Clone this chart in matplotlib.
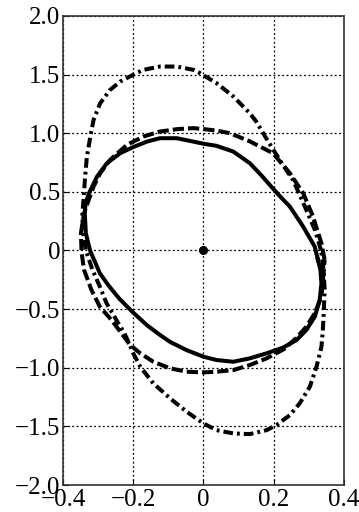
import matplotlib.pyplot as plt

# solid orbit
solid_x = [0.326, 0.317, 0.284, 0.246, 0.22, 0.197, 0.165, 0.132, 0.085, 0.037,
           0.0, -0.029, -0.076, -0.124, -0.161, -0.201, -0.237, -0.275, -0.303, -0.326,
           -0.336, -0.338, -0.335, -0.323, -0.295, -0.27, -0.24, -0.2, -0.16, -0.124,
           -0.095, -0.048, 0.0, 0.037, 0.085, 0.132, 0.18, 0.227, 0.265, 0.293,
           0.317, 0.331, 0.336, 0.333, 0.326]
solid_y = [-0.08, 0.032, 0.203, 0.374, 0.455, 0.531, 0.64, 0.744, 0.843, 0.892,
           0.91, 0.928, 0.957, 0.957, 0.928, 0.88, 0.829, 0.744, 0.63, 0.488,
           0.4, 0.317, 0.147, 0.0, -0.195, -0.3, -0.41, -0.53, -0.64, -0.72,
           -0.78, -0.85, -0.906, -0.934, -0.949, -0.92, -0.877, -0.828, -0.764, -0.678,
           -0.565, -0.422, -0.28, -0.166, -0.08]

# dashed orbit
dash_x = [0.345, 0.336, 0.312, 0.284, 0.246, 0.198, 0.132, 0.075, 0.037, 0.0,
          -0.029, -0.076, -0.124, -0.171, -0.218, -0.266, -0.294, -0.313, -0.327, -0.34,
          -0.349, -0.347, -0.34, -0.319, -0.295, -0.262, -0.235, -0.209, -0.18, -0.143,
          -0.095, -0.048, 0.0, 0.037, 0.085, 0.132, 0.18, 0.23, 0.265, 0.293,
          0.317, 0.336, 0.342, 0.345]
dash_y = [-0.08, 0.061, 0.289, 0.488, 0.659, 0.829, 0.93, 1.0, 1.022, 1.035,
          1.043, 1.034, 1.014, 0.971, 0.9, 0.772, 0.659, 0.544, 0.43, 0.317,
          0.147, -0.02, -0.166, -0.337, -0.48, -0.593, -0.7, -0.806, -0.877, -0.949,
          -1.005, -1.034, -1.04, -1.034, -1.02, -0.977, -0.92, -0.84, -0.745, -0.65,
          -0.536, -0.394, -0.195, -0.08]

# dash-dot orbit
dd_x = [0.335, 0.318, 0.298, 0.285, 0.255, 0.217, 0.18, 0.15, 0.132, 0.085,
        0.037, -0.01, -0.029, -0.076, -0.124, -0.171, -0.201, -0.237, -0.266, -0.294,
        -0.313, -0.322, -0.332, -0.337, -0.341, -0.345, -0.343, -0.335, -0.316, -0.295,
        -0.276, -0.248, -0.225, -0.212, -0.2, -0.18, -0.143, -0.095, -0.048, 0.0,
        0.037, 0.085, 0.132, 0.18, 0.208, 0.246, 0.274, 0.303, 0.322, 0.336,
        0.34, 0.343, 0.345, 0.342, 0.335]
dd_y = [0.0, 0.17, 0.31, 0.4, 0.6, 0.772, 0.95, 1.1, 1.17, 1.313,
        1.427, 1.512, 1.54, 1.568, 1.568, 1.54, 1.497, 1.44, 1.369, 1.256,
        1.113, 0.971, 0.8, 0.63, 0.459, 0.3, 0.15, 0.0, -0.166, -0.309,
        -0.45, -0.593, -0.707, -0.792, -0.877, -0.991, -1.133, -1.261, -1.375, -1.475,
        -1.532, -1.56, -1.566, -1.532, -1.489, -1.404, -1.304, -1.162, -0.991, -0.821,
        -0.678, -0.5, -0.33, -0.166, 0.0]

xticks = [-0.4, -0.2, 0, 0.2, 0.4]
xlabels = ["\u22120.4", "\u22120.2", "0", "0.2", "0.4"]
yticks = [-2.0, -1.5, -1.0, -0.5, 0, 0.5, 1.0, 1.5, 2.0]
ylabels = ["\u22122.0", "\u22121.5", "\u22121.0", "\u22120.5", "0", "0.5", "1.0", "1.5", "2.0"]

plt.rcParams['font.family'] = ['Liberation Serif', 'DejaVu Serif']

fig = plt.figure(figsize=(3.59, 5.12), dpi=100)
ax = fig.add_axes([0.1755, 0.0527, 0.7825, 0.9163])

ax.plot(solid_x, solid_y, color='black', lw=2.9, solid_joinstyle='round')
ax.plot(dash_x, dash_y, color='black', lw=2.9, dashes=(2.8, 1.0), dash_joinstyle='round')
ax.plot(dd_x, dd_y, color='black', lw=2.9, dashes=(2.4, 1.0, 0.7, 1.0), dash_joinstyle='round')
ax.plot([0], [0], 'o', color='black', markersize=5.5)

ax.set_xlim(-0.4, 0.4)
ax.set_ylim(-2.0, 2.0)
ax.set_xticks(xticks)
ax.set_xticklabels(xlabels)
ax.set_yticks(yticks)
ax.set_yticklabels(ylabels)
ax.grid(True, color='black', linestyle=(0, (1.5, 2.0)), linewidth=0.9)
ax.tick_params(direction='in', length=4, labelsize=18, pad=2)
ax.tick_params(axis='x', pad=3)
for s in ax.spines.values():
    s.set_linewidth(1.2)
    s.set_color('#333333')

fig.savefig('out.png', dpi=100)
